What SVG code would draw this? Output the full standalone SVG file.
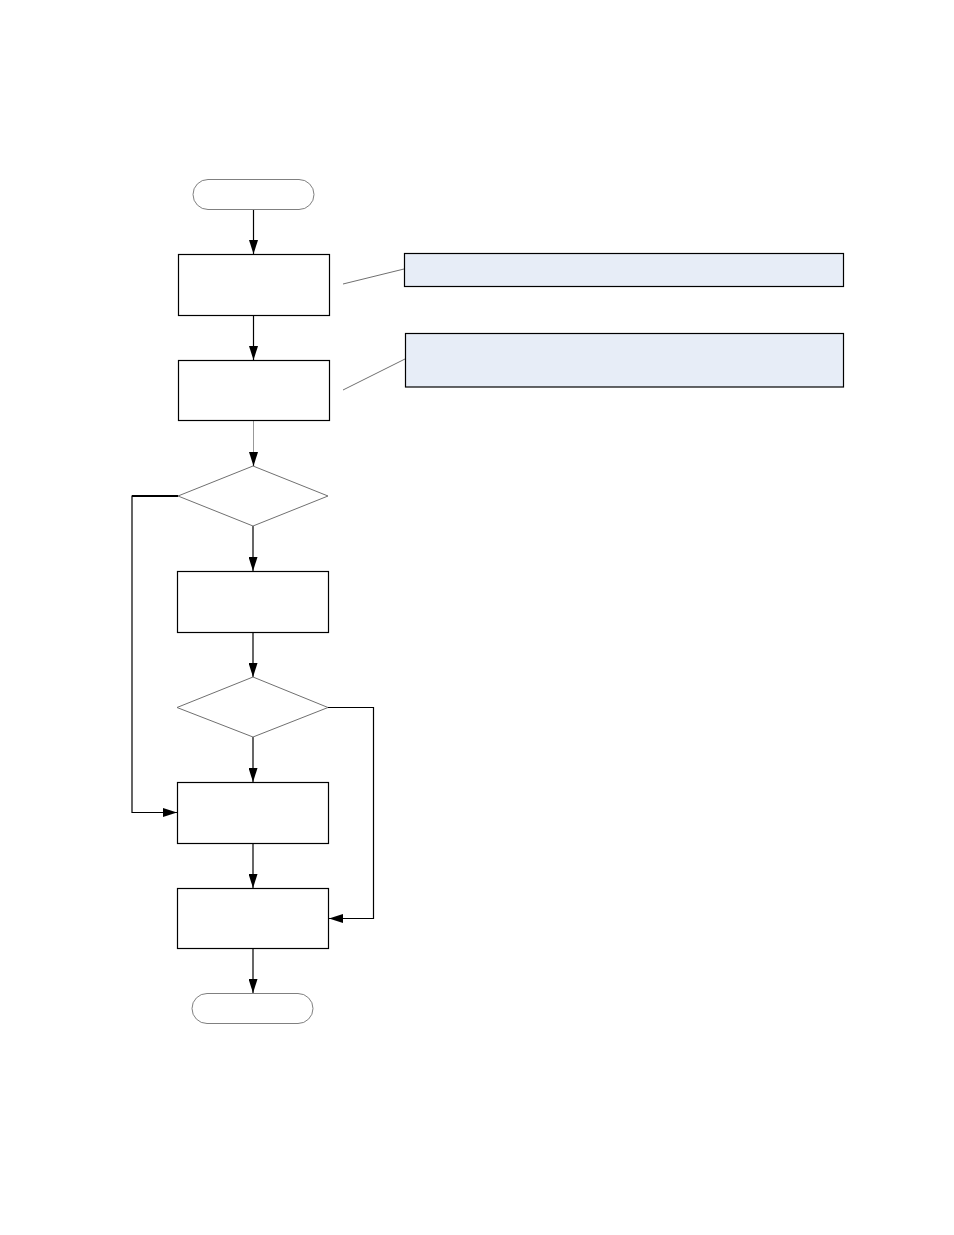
<svg xmlns="http://www.w3.org/2000/svg" width="954" height="1235" viewBox="0 0 954 1235">
<style>
.term{fill:#fff;stroke:#808080;stroke-width:1}
.box{fill:#fff;stroke:#000;stroke-width:1.2}
.dia{fill:#fff;stroke:#707070;stroke-width:1}
.note{fill:#E7EDF7;stroke:#000;stroke-width:1.2}
.call{fill:none;stroke:#707070;stroke-width:1}
.conn{fill:none;stroke:#000;stroke-width:1.2}
</style>
<defs>
<marker id="ah" viewBox="0 0 14 9" refX="14" refY="4.5" markerWidth="14" markerHeight="9" markerUnits="userSpaceOnUse" orient="auto">
<path d="M0,0 L14,4.5 L0,9 Z" fill="#000"/>
</marker>
</defs>
<rect width="954" height="1235" fill="#fff"/>
<g id="connectors">
<line class="conn" x1="253.5" y1="209" x2="253.5" y2="254" marker-end="url(#ah)"/>
<line class="conn" x1="253.5" y1="315" x2="253.5" y2="360" marker-end="url(#ah)"/>
<line x1="253.5" y1="420" x2="253.5" y2="453" stroke="#999" stroke-width="1"/>
<line class="conn" x1="253.5" y1="452" x2="253.5" y2="466" marker-end="url(#ah)"/>
<line class="conn" x1="253" y1="526" x2="253" y2="571" marker-end="url(#ah)"/>
<line class="conn" x1="253" y1="632" x2="253" y2="677" marker-end="url(#ah)"/>
<line class="conn" x1="253" y1="737" x2="253" y2="782" marker-end="url(#ah)"/>
<line class="conn" x1="253" y1="843" x2="253" y2="888" marker-end="url(#ah)"/>
<line class="conn" x1="253" y1="948" x2="253" y2="993" marker-end="url(#ah)"/>
<polyline class="conn" points="178,496 132,496 132,812.5 177,812.5" marker-end="url(#ah)"/>
<line x1="132" y1="496" x2="178" y2="496" stroke="#000" stroke-width="2"/>
<polyline class="conn" points="328,707.5 373.5,707.5 373.5,918.5 329,918.5" marker-end="url(#ah)"/>
<line class="call" x1="343" y1="284" x2="404" y2="269"/>
<line class="call" x1="343" y1="390" x2="405" y2="359"/>
</g>
<g id="start"><rect class="term" x="193" y="179.5" width="121" height="30" rx="15"/></g>
<g id="step1"><rect class="box" x="178.5" y="254.5" width="151" height="61"/></g>
<g id="step2"><rect class="box" x="178.5" y="360.5" width="151" height="60"/></g>
<g id="decision1"><polygon class="dia" points="253,466 328,496 253,526 178,496"/></g>
<g id="step3"><rect class="box" x="177.5" y="571.5" width="151" height="61"/></g>
<g id="decision2"><polygon class="dia" points="253,677 328,707.5 253,737 177,707.5"/></g>
<g id="step4"><rect class="box" x="177.5" y="782.5" width="151" height="61"/></g>
<g id="step5"><rect class="box" x="177.5" y="888.5" width="151" height="60"/></g>
<g id="end"><rect class="term" x="192" y="993.5" width="121" height="30" rx="15"/></g>
<g id="note1"><rect class="note" x="404.5" y="253.5" width="439" height="33"/></g>
<g id="note2"><rect class="note" x="405.5" y="333.5" width="438" height="53.5"/></g>
</svg>
